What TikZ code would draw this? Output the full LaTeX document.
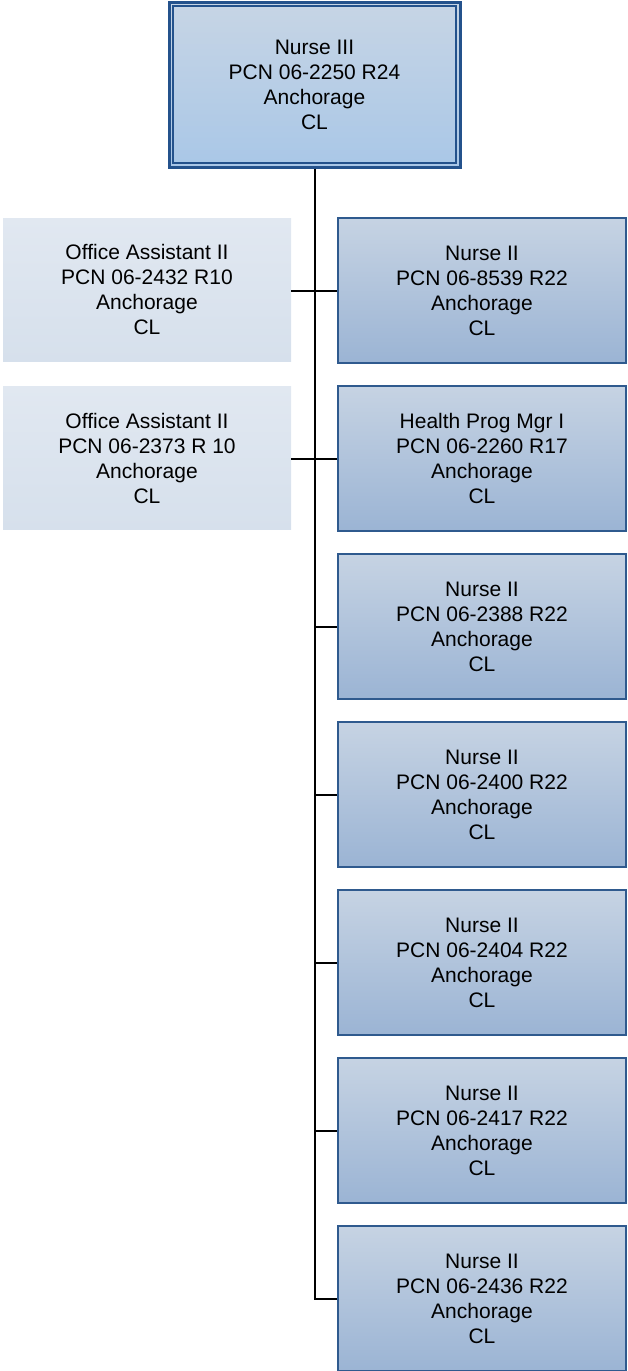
\documentclass[tikz,border=0pt]{standalone}
\usepackage{fontspec}
\setmainfont{Liberation Sans}
\usetikzlibrary{calc}
\definecolor{bordblue}{HTML}{2F5A8E}
\definecolor{topdark}{HTML}{24528C}
\definecolor{rtop}{HTML}{C6D3E3}
\definecolor{rbot}{HTML}{9BB4D4}
\definecolor{ttop}{HTML}{C7D5E5}
\definecolor{tbot}{HTML}{A9C7E7}
\definecolor{ltop}{HTML}{E1E8F1}
\definecolor{lbot}{HTML}{D6E0EC}
\begin{document}
\begin{tikzpicture}[x=1pt,y=-1pt,
  every node/.style={font=\fontsize{21}{25}\selectfont, align=center, inner sep=0pt},
  rbox/.style={rectangle, minimum width=288pt, minimum height=145pt, top color=rtop, bottom color=rbot, draw=bordblue, line width=1.5pt},
  lbox/.style={rectangle, minimum width=288pt, minimum height=143pt, top color=ltop, bottom color=lbot},
  topbox/.style={rectangle, minimum width=291pt, minimum height=165pt, top color=ttop, bottom color=tbot, draw=topdark, line width=3pt},
  inner/.style={draw=topdark, line width=2.5pt},
  conn/.style={draw=black, line width=2pt}]
\useasboundingbox (0,0) rectangle (627,1371);
\node[topbox] (top) at (314.5,84.5) {Nurse III\\PCN 06-2250 R24\\Anchorage\\CL};
\draw[inner] ($(top.north west)+(5.5,5.5)$) rectangle ($(top.south east)+(-5.5,-5.5)$);
\node[lbox] (l1) at (147,289.5) {Office Assistant II\\PCN 06-2432 R10\\Anchorage\\CL};
\node[lbox] (l2) at (147,458) {Office Assistant II\\PCN 06-2373 R 10\\Anchorage\\CL};
\node[rbox] (r1) at (482,290.5) {Nurse II\\PCN 06-8539 R22\\Anchorage\\CL};
\node[rbox] (r2) at (482,458.5) {Health Prog Mgr I\\PCN 06-2260 R17\\Anchorage\\CL};
\node[rbox] (r3) at (482,626.5) {Nurse II\\PCN 06-2388 R22\\Anchorage\\CL};
\node[rbox] (r4) at (482,794.5) {Nurse II\\PCN 06-2400 R22\\Anchorage\\CL};
\node[rbox] (r5) at (482,962.5) {Nurse II\\PCN 06-2404 R22\\Anchorage\\CL};
\node[rbox] (r6) at (482,1130.5) {Nurse II\\PCN 06-2417 R22\\Anchorage\\CL};
\node[rbox] (r7) at (482,1298.5) {Nurse II\\PCN 06-2436 R22\\Anchorage\\CL};
\draw[conn] (top.south) -- (top.south |- r7.west) -- (r7.west);
\foreach \r in {r3,r4,r5,r6} \draw[conn] (top.south |- \r.west) -- (\r.west);
\draw[conn] (l1.east |- r1.west) -- (r1.west);
\draw[conn] (l2.east |- r2.west) -- (r2.west);
\end{tikzpicture}
\end{document}
